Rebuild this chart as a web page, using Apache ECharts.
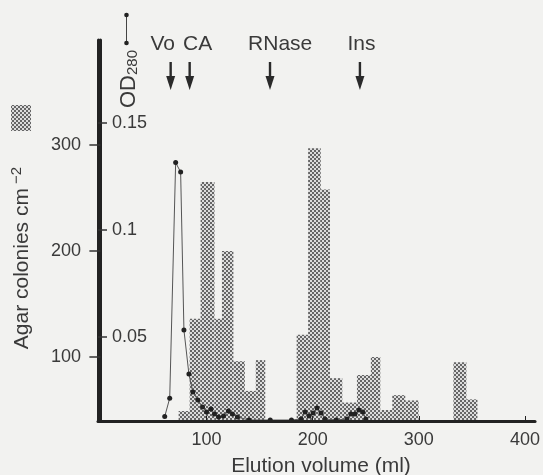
<!DOCTYPE html>
<html><head><meta charset="utf-8">
<script src="https://cdn.jsdelivr.net/npm/echarts@6/dist/echarts.min.js"></script>
<style>html,body{margin:0;padding:0;background:#f2f2f0}#c{width:543px;height:475px}</style>
</head><body><div id="c"></div>
<script>
// ---- data ----
const binStart = [73.7, 84.1, 94.4, 107.5, 114.5, 125.3, 136.1, 146.4, 184.9, 195.7, 207.6, 216.3, 227.9, 241.7, 254.8, 263.7, 275.0, 287.2, 332.6, 344.8];
const binEnd   = [84.1, 94.4, 107.5, 114.5, 125.3, 136.1, 146.4, 155.3, 195.7, 207.6, 216.3, 227.9, 241.7, 254.8, 263.7, 275.0, 287.2, 299.8, 344.8, 355.2];
const colonies = [49, 136, 265, 136, 200, 96, 68, 97, 121, 297, 258, 80, 57, 83, 100, 50, 64, 59, 95, 60];

const odVolume = [60.6, 65.3, 70.9, 75.6, 78.7, 83.4, 87.1, 91.8, 96.2, 100, 104.2, 107.5, 111.3, 116, 120.6, 124.4, 129.1, 140, 160, 180, 189.1, 192.9, 196.6, 200.4, 204.1, 207.9, 211.6, 222, 232.3, 236, 239.8, 243.5, 247.3, 250.1];
const odValue  = [0.0128, 0.0214, 0.1315, 0.1271, 0.0533, 0.0327, 0.0243, 0.0206, 0.0173, 0.0150, 0.0164, 0.0140, 0.0126, 0.0131, 0.0154, 0.0140, 0.0126, 0.0112, 0.0112, 0.0112, 0.0117, 0.0150, 0.0131, 0.0145, 0.0168, 0.0145, 0.0117, 0.0112, 0.0117, 0.0140, 0.0140, 0.0159, 0.0150, 0.0117];

const xTicks = [100, 200, 300, 400];
const colTicks = [100, 200, 300];
const odTicks = [0.05, 0.1, 0.15];

const markerNames = ['Vo', 'CA', 'RNase', 'Ins'];
const markerVolume = [66.2, 84.1, 159.8, 244.5];
const markerLabelVolume = [58.7, 91.6, 169.4, 245.9];

// axis ranges
const xMin = -2.25, xMax = 409.5;
const colMin = 39.6, colMax = 399;
const odMin = 0.01075, odMax = 0.1888;

const FONT = 'Liberation Sans, Arial, sans-serif';
const TXT = '#3a3a3a';

function makePattern(){
  const c = document.createElement('canvas'); c.width = 4; c.height = 4;
  const g = c.getContext('2d');
  g.fillStyle = '#dcdcdc'; g.fillRect(0,0,4,4);
  g.fillStyle = '#666'; g.fillRect(0,0,2,2); g.fillRect(2,2,2,2);
  return c;
}
const pat = makePattern();

const chart = echarts.init(document.getElementById('c'), null, {renderer:'canvas'});
const barData = binStart.map((s,i)=>[s, binEnd[i], colonies[i]]);
const lineData = odVolume.map((v,i)=>[v, odValue[i]]);

chart.setOption({
  animation: false,
  backgroundColor: '#f2f2f0',
  grid: {left: 98, right: 6, top: 40, bottom: 54},
  xAxis: {
    type: 'value', min: xMin, max: xMax, z: 5,
    axisLine: {lineStyle: {color: '#222', width: 3}},
    axisTick: {show: true, inside: true, length: 5, customValues: xTicks, lineStyle: {color: '#222', width: 1}},
    axisLabel: {customValues: xTicks, margin: 10, fontSize: 18, color: TXT, fontFamily: FONT},
    splitLine: {show: false}
  },
  yAxis: [{
    type: 'value', position: 'left', min: colMin, max: colMax, z: 5,
    axisLine: {show: true, lineStyle: {color: '#222', width: 3}},
    axisTick: {show: true, length: 11, customValues: colTicks, lineStyle: {color: '#333', width: 1.5}},
    axisLabel: {customValues: colTicks, margin: 17, fontSize: 18, color: TXT, fontFamily: FONT},
    splitLine: {show: false}
  },{
    type: 'value', position: 'left', offset: 0, min: odMin, max: odMax, z: 5,
    axisLine: {show: true, lineStyle: {color: '#222', width: 3}},
    axisTick: {show: true, inside: true, length: 9, customValues: odTicks, lineStyle: {color: '#333', width: 1.5}},
    axisLabel: {inside: true, customValues: odTicks, margin: 14, fontSize: 18, color: TXT, fontFamily: FONT},
    splitLine: {show: false}
  }],
  series: [{
    type: 'custom', xAxisIndex: 0, yAxisIndex: 0, z: 1,
    encode: {x: [0,1], y: 2},
    data: barData,
    renderItem(params, api){
      const p0 = api.coord([api.value(0), api.value(2)]);
      const p1 = api.coord([api.value(1), colMin]);
      return {type: 'rect', shape: {x: p0[0], y: p0[1], width: p1[0]-p0[0], height: p1[1]-p0[1]},
        style: {fill: {image: pat, repeat: 'repeat'}}};
    }
  },{
    type: 'line', xAxisIndex: 0, yAxisIndex: 1, z: 3,
    data: lineData,
    symbol: 'circle', symbolSize: 5, showSymbol: true,
    itemStyle: {color: '#222'},
    lineStyle: {color: '#555', width: 1}
  }]
});

// annotations positioned via axis scale
const g = [];
const arrowTop = 62, arrowTip = 90;
markerVolume.forEach((v)=>{
  const px = chart.convertToPixel({xAxisIndex: 0}, v);
  g.push({type: 'rect', shape: {x: px-1.2, y: arrowTop, width: 2.4, height: 18}, style: {fill: '#2a2a2a'}});
  g.push({type: 'polygon', shape: {points: [[px-4.5, 76],[px+4.5, 76],[px, arrowTip]]}, style: {fill: '#2a2a2a'}});
});
markerNames.forEach((n,i)=>{
  const px = chart.convertToPixel({xAxisIndex: 0}, markerLabelVolume[i]);
  g.push({type: 'text', x: px, y: 44, style: {text: n, fontSize: 21, fontFamily: FONT, fill: TXT, align: 'center', verticalAlign: 'middle'}});
});
// legend samples
g.push({type: 'rect', shape: {x: 11, y: 105, width: 20, height: 26}, style: {fill: {image: pat, repeat: 'repeat'}}});
g.push({type: 'line', shape: {x1: 126.5, y1: 15, x2: 126.5, y2: 43}, style: {stroke: '#444', lineWidth: 1}});
g.push({type: 'circle', shape: {cx: 126.5, cy: 15, r: 2.3}, style: {fill: '#222'}});
g.push({type: 'circle', shape: {cx: 126.5, cy: 43, r: 2.3}, style: {fill: '#222'}});
g.push({type: 'text', x: 128.5, y: 79, rotation: Math.PI/2, style: {
  text: 'OD{sub|280}', fontSize: 22, fontFamily: FONT, fill: TXT, align: 'center', verticalAlign: 'middle',
  rich: {sub: {fontSize: 15, fontFamily: FONT, fill: TXT, verticalAlign: 'bottom', padding: [8,0,0,0]}}
}});
// axis titles
g.push({type: 'text', x: 22, y: 258, rotation: Math.PI/2, style: {
  text: 'Agar colonies cm{sup| −2}', fontSize: 21, fontFamily: FONT, fill: TXT, align: 'center', verticalAlign: 'middle',
  rich: {sup: {fontSize: 15, fontFamily: FONT, fill: TXT, verticalAlign: 'top', padding: [0,0,10,0]}}
}});
g.push({type: 'text', x: 321, y: 466, style: {text: 'Elution volume (ml)', fontSize: 21, fontFamily: FONT, fill: TXT, align: 'center', verticalAlign: 'middle'}});
chart.setOption({graphic: {elements: g}});
</script></body></html>
